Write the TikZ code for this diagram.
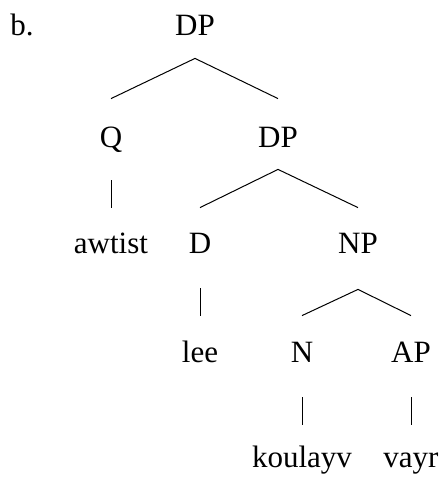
\documentclass[tikz,border=0pt]{standalone}
\usepackage{fontspec}
\setmainfont{Liberation Serif}
\usepackage{tikz}
\usetikzlibrary{positioning}

\tikzset{
  cat/.style={anchor=base, inner sep=0pt, text height=10pt, text depth=0pt, font=\fontsize{15.5}{18}\selectfont},
  branch/.style={black, line width=0.5pt}
}

\begin{document}
\begin{tikzpicture}[x=0.5pt,y=-0.5pt]
\useasboundingbox (0,0) rectangle (445,477);

\node[cat, anchor=base west] (lbl) at (10,35) {b.};

% top DP and its daughters
\node[cat] (dp) at (195,35) {DP};
\node[cat] (q) at (111,147) {Q};
\node[cat] (dpb) at (278,147) {DP};

\node[cat] (awtist) at (111,253) {awtist};
\node[cat] (d) at (200,253) {D};
\node[cat] (np) at (358,253) {NP};

\node[cat] (lee) at (200,362) {lee};
\node[cat] (n) at (302,362) {N};
\node[cat] (ap) at (411,362) {AP};

\node[cat] (koulayv) at (302,467) {koulayv};
\node[cat] (vayr) at (411,467) {vayr};

\draw[branch] ([yshift=-11.5pt]dp.south) -- ([yshift=14pt]q.north);
\draw[branch] ([yshift=-11.5pt]dp.south) -- ([yshift=14pt]dpb.north);

\draw[branch] ([yshift=-16.5pt]q.south) -- ([yshift=12.5pt]awtist.north);
\draw[branch] ([yshift=-11pt]dpb.south) -- ([yshift=12.5pt]d.north);
\draw[branch] ([yshift=-11pt]dpb.south) -- ([yshift=12.5pt]np.north);

\draw[branch] ([yshift=-17.5pt]d.south) -- ([yshift=13pt]lee.north);
\draw[branch] ([yshift=-18pt]np.south) -- ([yshift=13pt]n.north);
\draw[branch] ([yshift=-18pt]np.south) -- ([yshift=13pt]ap.north);

\draw[branch] ([yshift=-17.5pt]n.south) -- ([yshift=11pt]koulayv.north);
\draw[branch] ([yshift=-17.5pt]ap.south) -- ([yshift=11pt]vayr.north);

\end{tikzpicture}
\end{document}
